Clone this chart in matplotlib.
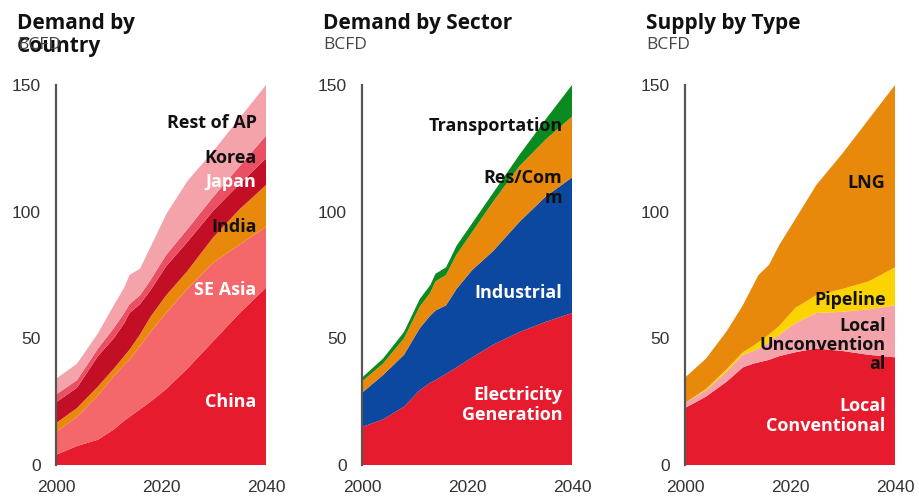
import matplotlib
matplotlib.use("Agg")
import matplotlib.pyplot as plt

# Data (BCFD)
# -----------------------------------------------------------------------------------------

years = [2000, 2004, 2008, 2011, 2013, 2014, 2016, 2018, 2021, 2025, 2030, 2035, 2040]

# Demand by country
china      = [4, 7.5, 10, 14, 17.5, 19, 22, 25, 30, 38, 49, 60, 70]
se_asia    = [9, 11.5, 17.5, 21, 22, 22.5, 25, 27.5, 30, 31.5, 31, 27, 24]
india      = [3.5, 3.5, 3.5, 3, 3.5, 4, 4.5, 6, 7, 7, 10, 14, 16.5]
japan      = [8.2, 8, 12, 12, 13, 14.5, 12, 10.5, 11.5, 11.5, 10.5, 10, 10.5]
korea      = [3.1, 3, 3, 4, 4, 3.5, 3.5, 4, 4.5, 5, 5.5, 7, 9]
rest_of_ap = [6.2, 6.5, 6, 9, 10, 11.5, 10.5, 13, 16, 19, 18, 19, 20]

# Demand by sector
electricity    = [15, 18, 23, 29.5, 32.5, 33.5, 36, 38.5, 42.5, 47.5, 52.5, 56.5, 60]
industrial     = [13.5, 17.5, 20.5, 24.5, 26.5, 27.5, 27, 31, 34.5, 37, 43.5, 49.5, 53.5]
res_comm       = [4.5, 4.5, 6.5, 8.5, 9, 11.5, 12, 13.5, 15, 19.5, 22, 22.5, 24]
transportation = [1.5, 2, 2.5, 3, 3, 3, 3, 3.5, 3.5, 3.5, 4.5, 8, 12.5]

# Supply by type
local_conv   = [22.5, 27, 33, 38.5, 40, 40.5, 41.5, 43, 44.5, 46, 45, 43.5, 42.5]
local_unconv = [2, 2.5, 4, 5, 5, 5.5, 7, 8.5, 11.5, 14, 15.5, 18, 20.5]
pipeline     = [0, 0.5, 1, 1, 2, 2.5, 3, 3.5, 6, 7, 9, 11, 15]
lng          = [10, 12, 15, 18.5, 24, 26.5, 27.5, 32, 35, 43.5, 53.5, 64, 72]

x_ticks = [2000, 2020, 2040]
y_ticks = [0, 50, 100, 150]

RED = "#E61B2E"
SALMON = "#F4686C"
ORANGE = "#E9890B"
DARK_RED = "#C20F26"
KOREA_PINK = "#EA5063"
LIGHT_PINK = "#F4A3AB"
BLUE = "#0C48A0"
GREEN = "#0B8A1F"
YELLOW = "#FBD400"

LABEL_FONT = "Open Sans"
TICK_FONT = "Liberation Sans"


def style_axis(ax):
    ax.set_xlim(2000, 2040)
    ax.set_ylim(0, 150)
    ax.set_xticks(x_ticks)
    ax.set_yticks(y_ticks)
    for side in ["top", "right", "bottom"]:
        ax.spines[side].set_visible(False)
    ax.spines["left"].set_color("#555555")
    ax.spines["left"].set_linewidth(1.6)
    ax.tick_params(length=0, labelsize=12.5, labelcolor="#333333")
    ax.tick_params(axis="y", pad=11)
    ax.tick_params(axis="x", pad=11)
    for lab in ax.get_xticklabels() + ax.get_yticklabels():
        lab.set_fontfamily(TICK_FONT)


def area_label(ax, y, text, color):
    ax.text(2038.2, y, text, ha="right", va="center", color=color,
            fontsize=13, fontweight="bold", family=LABEL_FONT, linespacing=1.1)


def panel_title(fig, ax, title):
    x0 = ax.get_position().x0 - 39 / 920
    fig.text(x0, 1 - 13 / 500, title, ha="left", va="top", fontsize=15,
             fontweight="bold", family=LABEL_FONT, color="#111111", linespacing=1.15)
    fig.text(x0, 1 - 45 / 500, "BCFD", ha="left", va="center", fontsize=12.5,
             family=LABEL_FONT, color="#444444")


fig = plt.figure(figsize=(9.2, 5), dpi=100)
ax1 = fig.add_axes([56 / 920, 0.07, 210 / 920, 0.76])
ax2 = fig.add_axes([362 / 920, 0.07, 210 / 920, 0.76])
ax3 = fig.add_axes([685 / 920, 0.07, 210 / 920, 0.76])

# Demand by Country
ax1.stackplot(years, china, se_asia, india, japan, korea, rest_of_ap,
              colors=[RED, SALMON, ORANGE, DARK_RED, KOREA_PINK, LIGHT_PINK], linewidth=0)
style_axis(ax1)
area_label(ax1, 135, "Rest of AP", "#111111")
area_label(ax1, 121, "Korea", "#111111")
area_label(ax1, 111.7, "Japan", "white")
area_label(ax1, 94, "India", "#111111")
area_label(ax1, 69, "SE Asia", "white")
area_label(ax1, 25, "China", "white")
panel_title(fig, ax1, "Demand by\nCountry")

# Demand by Sector
ax2.stackplot(years, electricity, industrial, res_comm, transportation,
              colors=[RED, BLUE, ORANGE, GREEN], linewidth=0)
style_axis(ax2)
area_label(ax2, 133.8, "Transportation", "#111111")
area_label(ax2, 109.4, "Res/Com\nm", "#111111")
area_label(ax2, 68, "Industrial", "white")
area_label(ax2, 23.7, "Electricity\nGeneration", "white")
panel_title(fig, ax2, "Demand by Sector")

# Supply by Type
ax3.stackplot(years, local_conv, local_unconv, pipeline, lng,
              colors=[RED, LIGHT_PINK, YELLOW, ORANGE], linewidth=0)
style_axis(ax3)
area_label(ax3, 111.3, "LNG", "#111111")
area_label(ax3, 65, "Pipeline", "#111111")
area_label(ax3, 47.4, "Local\nUnconvention\nal", "#111111")
area_label(ax3, 19.3, "Local\nConventional", "white")
panel_title(fig, ax3, "Supply by Type")

fig.savefig("out.png", dpi=100)
